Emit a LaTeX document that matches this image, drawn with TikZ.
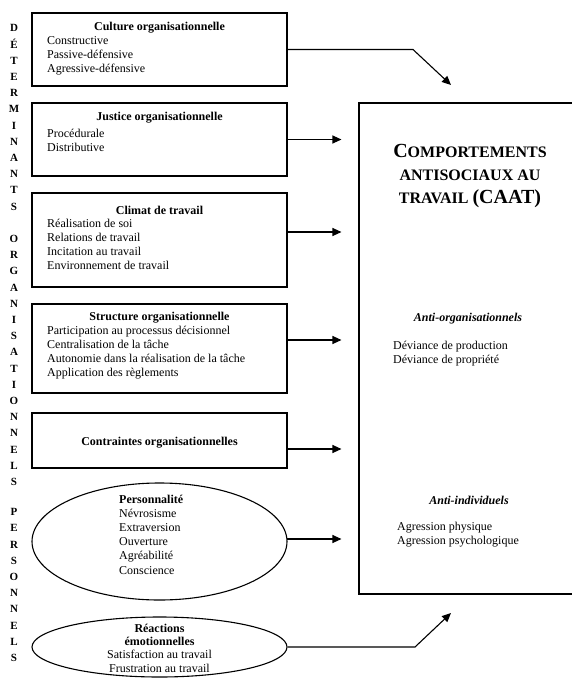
\documentclass[tikz,border=0pt]{standalone}
\usepackage{fontspec}
\setmainfont{Liberation Serif}
\usetikzlibrary{arrows.meta,shapes.geometric,calc}
\begin{document}
\begin{tikzpicture}[x=1pt,y=-1pt,
 box/.style={draw, line width=1.1pt, rectangle, minimum width=255pt, inner sep=0pt},
 oval/.style={draw, line width=1.1pt, ellipse, minimum width=255pt, inner sep=0pt},
 ttl/.style={font=\fontsize{12}{14}\selectfont\bfseries, inner sep=0pt},
 items/.style={font=\fontsize{12}{14.2}\selectfont, align=left, anchor=west, inner sep=0pt},
 vert/.style={font=\fontsize{11}{16.2}\selectfont\bfseries, align=center, inner sep=0pt},
 link/.style={line width=1.1pt, -{Triangle[length=9pt,width=8pt]}},
]
\useasboundingbox (0,0) rectangle (572,678);

% left vertical labels
\node[vert] (w1) at (14,117.5) {D\\É\\T\\E\\R\\M\\I\\N\\A\\N\\T\\S};
\node[vert] (w2) at (14,360.5) {O\\R\\G\\A\\N\\I\\S\\A\\T\\I\\O\\N\\N\\E\\L\\S};
\node[vert] (w3) at (14,585) {P\\E\\R\\S\\O\\N\\N\\E\\L\\S};

% boxes
\node[box, minimum height=73pt] (b1) at (159.5,49.5) {};
\node[ttl] (b1t) at (159.5,28) {Culture organisationnelle};
\node[items] (b1i) at (47,56) {Constructive\\Passive-défensive\\Agressive-défensive};

\node[box, minimum height=73pt] (b2) at (159.5,139.5) {};
\node[ttl] (b2t) at (159.5,118) {Justice organisationnelle};
\node[items] (b2i) at (47,140) {Procédurale\\Distributive};

\node[box, minimum height=94pt] (b3) at (159.5,240) {};
\node[ttl] (b3t) at (159.5,210) {Climat de travail};
\node[items] (b3i) at (47,244.5) {Réalisation de soi\\Relations de travail\\Incitation au travail\\Environnement de travail};

\node[box, minimum height=89pt] (b4) at (159.5,348.5) {};
\node[ttl] (b4t) at (159.5,318) {Structure organisationnelle};
\node[items] (b4i) at (47,352.5) {Participation au processus décisionnel\\Centralisation de la tâche\\Autonomie dans la réalisation de la tâche\\Application des règlements};

\node[box, minimum height=55pt] (b5) at (159.5,440.5) {};
\node[ttl] (b5t) at (159.5,443) {Contraintes organisationnelles};

\node[oval, minimum height=117pt] (e1) at (159.5,541.5) {};
\node[items] (e1t) at (119,534.5) {\textbf{Personnalité}\\Névrosisme\\Extraversion\\Ouverture\\Agréabilité\\Conscience};

\node[oval, minimum height=60pt] (e2) at (159.5,647) {};
\node[font=\fontsize{12}{13.4}\selectfont, align=center, inner sep=0pt] (e2t) at (159.5,648) {\textbf{Réactions}\\\textbf{émotionnelles}\\Satisfaction au travail\\Frustration au travail};

% right box
\node[draw, line width=1.1pt, rectangle, minimum width=221pt, minimum height=491pt, inner sep=0pt] (caat) at (469.5,348.5) {};
\node[font=\fontsize{16}{23}\selectfont\bfseries, align=center, inner sep=0pt] (caatt) at (470,176)
 {{\fontsize{20}{23}\selectfont C}OMPORTEMENTS\\ANTISOCIAUX AU\\TRAVAIL {\fontsize{20}{23}\selectfont (CAAT)}};
\node[font=\fontsize{12}{14}\selectfont\bfseries\itshape, inner sep=0pt] (ao) at (468,319) {Anti-organisationnels};
\node[items, font=\fontsize{12}{14.5}\selectfont] (aoi) at (393,353.5) {Déviance de production\\Déviance de propriété};
\node[font=\fontsize{12}{14}\selectfont\bfseries\itshape, inner sep=0pt] (ai) at (469,500) {Anti-individuels};
\node[items] (aii) at (397,535) {Agression physique\\Agression psychologique};

% connectors
\coordinate (k1) at (413,49.5);
\coordinate (t1) at (451,85);
\draw[link] (b1.east) -- (k1) -- (t1);
\draw[link, shorten >=17pt] (b2.east) -- (b2.east -| caat.west);
\coordinate (s3) at (287,232);
\draw[link, shorten >=17pt] (s3) -- (s3 -| caat.west);
\coordinate (s4) at (287,340);
\draw[link, shorten >=17pt] (s4) -- (s4 -| caat.west);
\coordinate (s5) at (287,449);
\draw[link, shorten >=17pt] (s5) -- (s5 -| caat.west);
\coordinate (s6) at (287,539);
\draw[link, shorten >=17pt] (s6) -- (s6 -| caat.west);
\coordinate (k7) at (415,647);
\coordinate (t7) at (451,613);
\draw[link] (e2.east) -- (k7) -- (t7);
\end{tikzpicture}
\end{document}
